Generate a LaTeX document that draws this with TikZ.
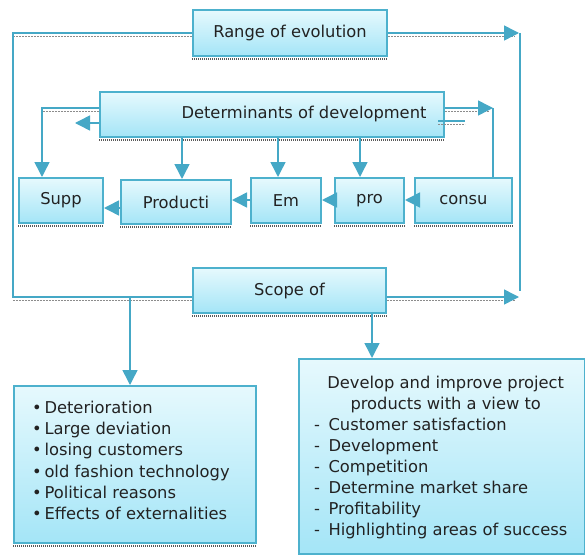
\documentclass[tikz,border=0pt]{standalone}
\usepackage{fontspec}
\setmainfont{DejaVu Sans}
\usetikzlibrary{arrows.meta,calc}
\definecolor{bordc}{HTML}{4DB1CD}
\definecolor{filltop}{HTML}{E6F9FD}
\definecolor{fillbot}{HTML}{A4E5F7}
\definecolor{arrc}{HTML}{45A8C6}
\definecolor{txtc}{HTML}{222222}
\tikzset{
  box/.style={draw=bordc, line width=2pt, top color=filltop, bottom color=fillbot,
    inner sep=0pt, anchor=north west, text=txtc,
    font=\fontsize{16.3}{21}\selectfont},
  conn/.style={draw=arrc, line width=1.5pt},
  arr/.style={conn, -{Triangle[length=15pt,width=15pt]}},
  bshadow/.style={draw=black!65, line width=2.5pt, dash pattern=on 1pt off 1pt},
  cshadow/.style={draw=black!45, line width=0.8pt, dash pattern=on 2pt off 1pt},
}
\begin{document}
\begin{tikzpicture}[x=1pt,y=-1pt]
\useasboundingbox (0,0) rectangle (585,556);
% boxes
\node[box, minimum width=194pt, minimum height=46pt] (range) at (192,9) {Range of evolution};
\node[box, minimum width=344pt, minimum height=45pt] (det) at (99,91) {\hspace*{64pt}Determinants of development};
\node[box, minimum width=84pt, minimum height=45pt] (supp) at (18,177) {Supp};
\node[box, minimum width=110pt, minimum height=44pt] (prod) at (120,179) {Producti};
\node[box, minimum width=70pt, minimum height=45pt] (em) at (250,177) {Em};
\node[box, minimum width=69pt, minimum height=45pt] (pro) at (334,177) {pro};
\node[box, minimum width=97pt, minimum height=45pt] (consu) at (414,177) {consu};
\node[box, minimum width=193pt, minimum height=45pt] (scope) at (192,267) {Scope of};
\node[box, minimum width=242pt, minimum height=157pt] (lbox) at (13,385) {};
\node[box, minimum width=286pt, minimum height=195pt] (rbox) at (298,358) {};
% box texts
\node[align=left, text=txtc, font=\fontsize{16.3}{21.2}\selectfont, anchor=north west, inner sep=0pt] (ltext) at (32,401)
 {•\,Deterioration\\ •\,Large deviation\\ •\,losing customers\\ •\,old fashion technology\\ •\,Political reasons\\ •\,Effects of externalities};
\node[text=txtc, font=\fontsize{16.3}{21}\selectfont, anchor=north west, inner sep=0pt] (rtext) at (314,374)
 {\begin{tabular}{@{}l@{\hspace{8.5pt}}l@{}}
 \multicolumn{2}{@{}c@{}}{\hspace*{10pt}Develop and improve project}\\
 \multicolumn{2}{@{}c@{}}{\hspace*{10pt}products with a view to}\\
 -& Customer satisfaction\\
 -& Development\\
 -& Competition\\
 -& Determine market share\\
 -& Profitability\\
 -& Highlighting areas of success
 \end{tabular}};
% box shadows
\foreach \n in {range,det,supp,prod,em,pro,consu,scope,lbox}
  \draw[bshadow] ([yshift=-2pt]\n.south west) -- ([yshift=-2pt]\n.south east);
% coordinates
\coordinate (tl) at (13,33);
\coordinate (tr) at (519,33);
\coordinate (bl) at (13,297);
\coordinate (br) at (519,297);
\coordinate (brv) at (520,291);
\coordinate (trv) at (520,33);
\coordinate (dl) at (42,108);
\coordinate (dr) at (493,108);
\coordinate (stubl) at (75,123);
\coordinate (stA) at (438,121);
\coordinate (stB) at (465,121);
\coordinate (p1) at (182,179);
\coordinate (p2) at (278,177);
\coordinate (p3) at (360,177);
\coordinate (lj) at (130,297);
\coordinate (rj) at (372,312);
% connector shadows
\draw[cshadow] ([yshift=-3pt]range.west |- tl) -- ([yshift=-3pt]tl);
\draw[cshadow] ([yshift=-3pt]range.east |- tr) -- ([shift={(-4pt,-3pt)}]tr);
\draw[cshadow] ([yshift=-3pt]scope.west |- bl) -- ([yshift=-3pt]bl);
\draw[cshadow] ([yshift=-3pt]scope.east |- br) -- ([shift={(-4pt,-3pt)}]br);
\draw[cshadow] ([yshift=-3pt]det.west |- dl) -- ([yshift=-3pt]dl);
\draw[cshadow] ([yshift=-3pt]det.east |- dr) -- ([shift={(-4pt,-3pt)}]dr);
\draw[cshadow] ([yshift=-3pt]stA) -- ([yshift=-3pt]stB);
% connectors
\draw[conn] (range.west |- tl) -- (tl) -- (bl) -- (scope.west |- bl);
\draw[arr] (range.east |- tr) -- (tr);
\draw[conn] (trv) -- (brv);
\draw[arr] (scope.east |- br) -- (br);
\draw[arr] (det.west |- dl) -- (dl) -- (dl |- supp.north);
\draw[arr] (det.west |- stubl) -- (stubl);
\draw[arr] (det.east |- dr) -- (dr);
\draw[conn] (dr) -- (dr |- consu.north);
\draw[conn, line width=1.2pt] (stA) -- (stB);
\draw[arr] (det.south -| p1) -- (p1);
\draw[arr] (det.south -| p2) -- (p2);
\draw[arr] (det.south -| p3) -- (p3);
\draw[arr] (consu.west |- 0,200) -- (pro.east |- 0,200);
\draw[arr] (pro.west |- 0,200) -- (em.east |- 0,200);
\draw[arr] (em.west |- 0,200) -- (prod.east |- 0,200);
\draw[arr] (prod.west |- 0,208) -- (supp.east |- 0,208);
\draw[arr] (lj) -- (lj |- lbox.north);
\draw[arr] (scope.south -| rj) -- (rbox.north -| rj);
\end{tikzpicture}
\end{document}
